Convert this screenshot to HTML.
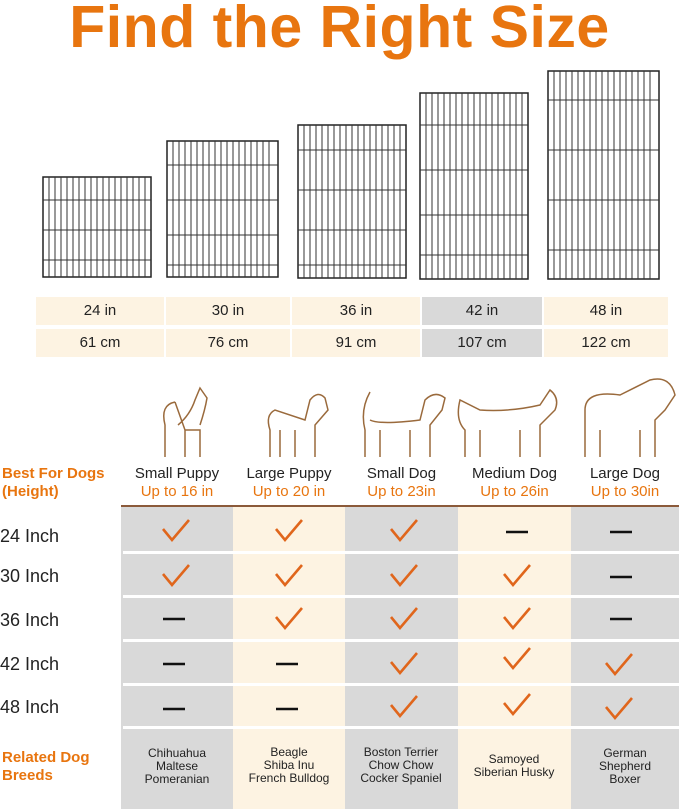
<!DOCTYPE html>
<html><head><style>
body{margin:0;width:679px;height:810px;background:#fff;position:relative;overflow:hidden;font-family:"Liberation Sans",sans-serif}
.a{position:absolute}
.t{color:#e8750f;font-weight:bold;font-size:59px;left:0;width:679px;text-align:center;top:-7px;letter-spacing:0.5px}
.c{position:absolute;text-align:center;font-size:15px;color:#222;line-height:28px}
.cr{background:#fdf3e2}.gr{background:#d9d9d9}
.h{position:absolute;text-align:center;font-size:15px;color:#222;line-height:18px}
.h span{color:#e8750f}
.rl{position:absolute;left:0;font-size:18px;color:#222}
.org{color:#e8750f;font-weight:bold;font-size:15px;line-height:18px}
.bd{position:absolute;text-align:center;font-size:12px;color:#222;line-height:13px;width:112px}
</style></head><body>
<div class="a t">Find the Right Size</div>
<svg class="a" style="left:0;top:0" width="679" height="290">
<g fill="none" stroke="#222" stroke-width="1.5">
<rect x="43" y="177" width="108" height="100"/><rect x="167" y="141" width="111" height="136"/><rect x="298" y="125" width="108" height="153"/><rect x="420" y="93" width="108" height="186"/><rect x="548" y="71" width="111" height="208"/>
</g>
<g stroke="#333" stroke-width="1">
<path d="M49 177V277M55 177V277M61 177V277M67 177V277M73 177V277M79 177V277M85 177V277M91 177V277M97 177V277M103 177V277M109 177V277M115 177V277M121 177V277M127 177V277M133 177V277M139 177V277M145 177V277M43 200H151M43 230H151M43 260H151"/>
<path d="M173 141V277M179 141V277M185 141V277M191 141V277M197 141V277M203 141V277M209 141V277M215 141V277M221 141V277M227 141V277M233 141V277M239 141V277M245 141V277M251 141V277M257 141V277M263 141V277M269 141V277M167 165H278M167 200H278M167 235H278M167 265H278"/>
<path d="M304 125V278M310 125V278M316 125V278M322 125V278M328 125V278M334 125V278M340 125V278M346 125V278M352 125V278M358 125V278M364 125V278M370 125V278M376 125V278M382 125V278M388 125V278M394 125V278M400 125V278M298 150H406M298 190H406M298 230H406M298 265H406"/>
<path d="M426 93V279M432 93V279M438 93V279M444 93V279M450 93V279M456 93V279M462 93V279M468 93V279M474 93V279M480 93V279M486 93V279M492 93V279M498 93V279M504 93V279M510 93V279M516 93V279M522 93V279M420 125H528M420 170H528M420 215H528M420 255H528"/>
<path d="M554 71V279M560 71V279M566 71V279M572 71V279M578 71V279M584 71V279M590 71V279M596 71V279M602 71V279M608 71V279M614 71V279M620 71V279M626 71V279M632 71V279M638 71V279M644 71V279M650 71V279M548 100H659M548 150H659M548 200H659M548 250H659"/>
</g></svg>
<div class="c cr" style="left:36px;top:297px;width:128px">24 in</div>
<div class="c cr" style="left:166px;top:297px;width:124px">30 in</div>
<div class="c cr" style="left:292px;top:297px;width:128px">36 in</div>
<div class="c gr" style="left:422px;top:297px;width:120px">42 in</div>
<div class="c cr" style="left:544px;top:297px;width:124px">48 in</div>
<div class="c cr" style="left:36px;top:329px;width:128px">61 cm</div>
<div class="c cr" style="left:166px;top:329px;width:124px">76 cm</div>
<div class="c cr" style="left:292px;top:329px;width:128px">91 cm</div>
<div class="c gr" style="left:422px;top:329px;width:120px">107 cm</div>
<div class="c cr" style="left:544px;top:329px;width:124px">122 cm</div>
<svg class="a" style="left:0;top:370px" width="679" height="95"><g fill="none" stroke="#9a6a3c" stroke-width="1.5">
<path d="M165 87V55Q160 35 175 32 M175 32L185 60V87M185 60H200V87M178 55Q190 45 195 30L200 18L207 28Q205 40 200 55"/>
<path d="M270 87V60Q265 45 275 40L305 50L310 30Q318 20 325 28L328 40L315 55V87M280 60V87M295 60V87"/>
<path d="M365 87V60Q360 40 370 22M370 50Q380 55 420 50L425 30Q435 20 445 28L442 40L430 55V87M380 60V87M410 60V87"/>
<path d="M465 87V60Q455 50 460 30Q470 35 480 40Q510 42 540 35L550 20Q560 28 555 40L540 55V87M480 60V87M520 60V87"/>
<path d="M585 87V40Q585 20 620 25L650 10Q670 5 675 25L665 40L655 50V87M600 60V87M640 60V87"/>
</g></svg>
<div class="a org" style="left:2px;top:465px">Best For Dogs<br>(Height)</div>
<div class="h" style="left:121px;top:465px;width:112px">Small Puppy<br><span>Up to 16 in</span></div>
<div class="h" style="left:233px;top:465px;width:112px">Large Puppy<br><span>Up to 20 in</span></div>
<div class="h" style="left:345px;top:465px;width:113px">Small Dog<br><span>Up to 23in</span></div>
<div class="h" style="left:458px;top:465px;width:113px">Medium Dog<br><span>Up to 26in</span></div>
<div class="h" style="left:571px;top:465px;width:108px">Large Dog<br><span>Up to 30in</span></div>
<div class="a" style="left:121px;top:505px;width:558px;height:2px;background:#8b5a3a"></div>
<div class="a gr" style="left:121px;top:507px;width:112px;height:302px"></div>
<div class="a cr" style="left:233px;top:507px;width:112px;height:302px"></div>
<div class="a gr" style="left:345px;top:507px;width:113px;height:302px"></div>
<div class="a cr" style="left:458px;top:507px;width:113px;height:302px"></div>
<div class="a gr" style="left:571px;top:507px;width:108px;height:302px"></div>
<div class="a" style="left:123px;top:551px;width:556px;height:3px;background:#fff"></div>
<div class="a" style="left:123px;top:595px;width:556px;height:3px;background:#fff"></div>
<div class="a" style="left:123px;top:639px;width:556px;height:3px;background:#fff"></div>
<div class="a" style="left:123px;top:683px;width:556px;height:3px;background:#fff"></div>
<div class="a" style="left:123px;top:726px;width:556px;height:3px;background:#fff"></div>
<div class="rl" style="top:526px">24 Inch</div>
<div class="rl" style="top:566px">30 Inch</div>
<div class="rl" style="top:610px">36 Inch</div>
<div class="rl" style="top:654px">42 Inch</div>
<div class="rl" style="top:697px">48 Inch</div>
<svg class="a" style="left:0;top:500px" width="679" height="230">
<defs><path id="k" d="M-13 -3L-4 8L13 -12" fill="none" stroke="#e0661c" stroke-width="2.6"/><path id="d" d="M-11 0H11" stroke="#111" stroke-width="2.6"/></defs>
<use href="#k" x="176" y="32"/><use href="#k" x="289" y="32"/><use href="#k" x="404" y="32"/><use href="#d" x="517" y="32"/><use href="#d" x="621" y="32"/>
<use href="#k" x="176" y="77"/><use href="#k" x="289" y="77"/><use href="#k" x="404" y="77"/><use href="#k" x="517" y="77"/><use href="#d" x="621" y="77"/>
<use href="#d" x="174" y="119"/><use href="#k" x="289" y="120"/><use href="#k" x="404" y="120"/><use href="#k" x="517" y="120"/><use href="#d" x="621" y="119"/>
<use href="#d" x="174" y="164"/><use href="#d" x="287" y="164"/><use href="#k" x="404" y="165"/><use href="#k" x="517" y="160"/><use href="#k" x="619" y="166"/>
<use href="#d" x="174" y="209"/><use href="#d" x="287" y="209"/><use href="#k" x="404" y="208"/><use href="#k" x="517" y="206"/><use href="#k" x="619" y="210"/>
</svg>
<div class="a org" style="left:2px;top:749px">Related Dog<br>Breeds</div>
<div class="bd" style="left:121px;top:747px">Chihuahua<br>Maltese<br>Pomeranian</div>
<div class="bd" style="left:233px;top:746px">Beagle<br>Shiba Inu<br>French Bulldog</div>
<div class="bd" style="left:345px;top:746px">Boston Terrier<br>Chow Chow<br>Cocker Spaniel</div>
<div class="bd" style="left:458px;top:753px">Samoyed<br>Siberian Husky</div>
<div class="bd" style="left:569px;top:747px">German<br>Shepherd<br>Boxer</div>
</body></html>
